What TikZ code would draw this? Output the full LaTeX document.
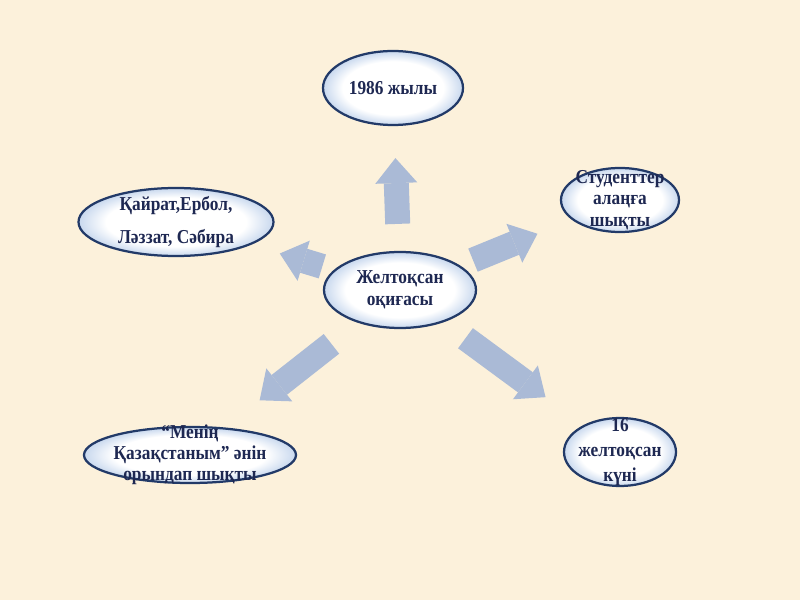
\documentclass[tikz,border=0pt]{standalone}
\usepackage{fontspec}
\setmainfont{Liberation Serif}[FakeStretch=0.88]
\usepackage{tikz}
\usetikzlibrary{shapes.geometric, arrows.meta}
\definecolor{paper}{RGB}{252,241,219}
\definecolor{navy}{RGB}{34,58,104}
\definecolor{inkblue}{RGB}{30,40,82}
\definecolor{arrowblue}{RGB}{170,186,214}
\definecolor{bubbleblue}{RGB}{200,216,238}
\pgfdeclareradialshading{bubbleshade}{\pgfpoint{0bp}{0bp}}{%
    color(0bp)=(white); color(18bp)=(white); color(25bp)=(bubbleblue); color(50bp)=(bubbleblue)}
\tikzstyle{arrow} = [-{Triangle[width=1.05cm, length=0.625cm, line width=0pt]}, line width=0.625cm, color=arrowblue]

\begin{document}
\begin{tikzpicture}[
    bubble/.style={ellipse, draw=navy, line width=1.6pt, shading=bubbleshade, inner sep=0pt},
    bubbletext/.style={align=center, text=inkblue, inner sep=0pt,
                       font=\fontsize{14}{16}\selectfont\bfseries}
]

    % Background
    \fill[paper] (0,0) rectangle (20,15);
    \useasboundingbox (0,0) rectangle (20,15);

    % Centre
    \node[bubble, minimum width=3.8cm, minimum height=1.9cm] (c) at (10,7.75) {};
    \node[bubbletext] (c-t) at (c) {Желтоқсан\\оқиғасы};

    % Top
    \node[bubble, minimum width=3.5cm, minimum height=1.85cm] (top) at (9.825,12.8) {};
    \node[bubbletext] (top-t) at (top) {1986 жылы};

    % Right
    \node[bubble, minimum width=2.95cm, minimum height=1.6cm] (stud) at (15.5,10) {};
    \node[bubbletext, font=\fontsize{14}{15.5}\selectfont\bfseries] (stud-t) at (stud) {Студенттер\\алаңға\\шықты};

    % Left
    \node[bubble, minimum width=4.875cm, minimum height=1.7cm] (names) at (4.4,9.45) {};
    \node[bubbletext, font=\fontsize{14}{23}\selectfont\bfseries] (names-t) at (names) {Қайрат,Ербол,\\Ләззат, Сәбира};

    % Bottom left
    \node[bubble, minimum width=5.3cm, minimum height=1.4cm] (song) at (4.75,3.625) {};
    \node[bubbletext, font=\fontsize{14}{15}\selectfont\bfseries] (song-t) at (song) {“Менің\\Қазақстаным” әнін\\орындап шықты};

    % Bottom right
    \node[bubble, minimum width=2.8cm, minimum height=1.7cm] (day) at (15.5,3.7) {};
    \node[bubbletext, font=\fontsize{14}{17.5}\selectfont\bfseries] (day-t) at (day) {16\\желтоқсан\\күні};

    % Arrows
    \draw[arrow, shorten <=0.675cm, shorten >=0.8cm] (c) -- (top);
    \draw[arrow, shorten <=0.35cm, shorten >=0.925cm] (c) -- (stud);
    \draw[arrow, shorten <=0.3cm, shorten >=0.75cm] (c) -- (names);
    \draw[arrow, shorten <=0.85cm, shorten >=1.1cm] (c) -- (song);
    \draw[arrow, shorten <=0.675cm, shorten >=1.175cm] (c) -- (day);

\end{tikzpicture}
\end{document}
